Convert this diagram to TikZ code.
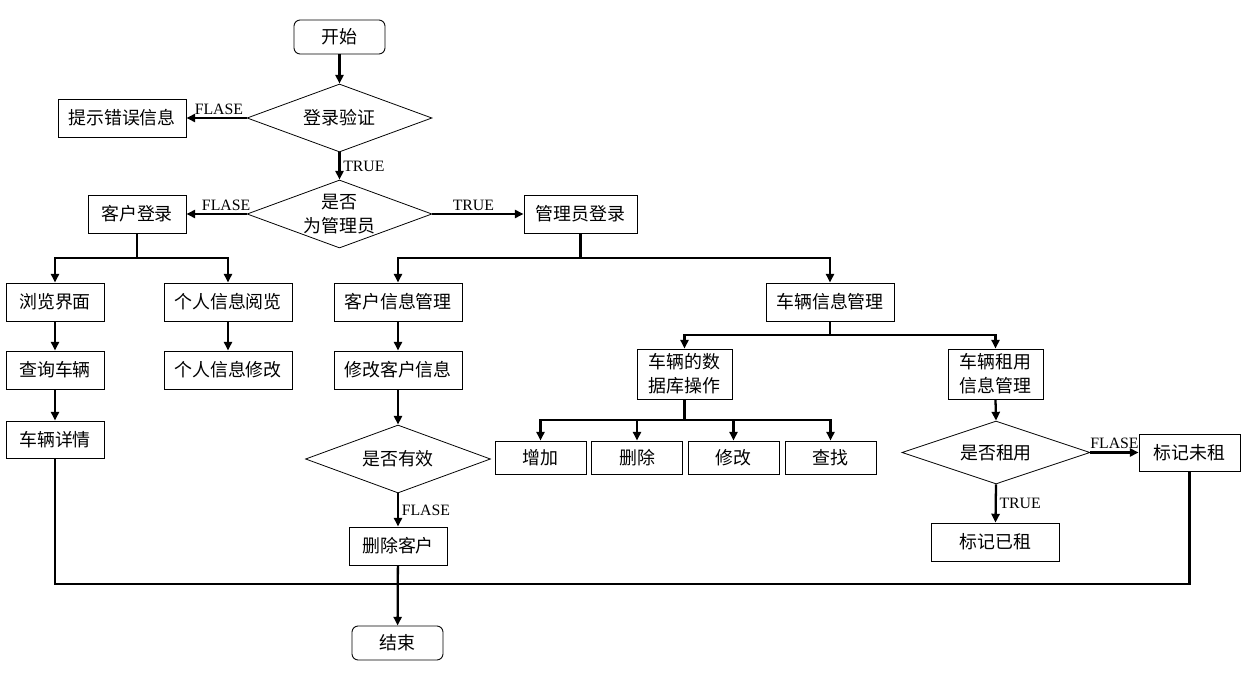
\documentclass[tikz,border=0pt]{standalone}
\usepackage{fontspec}
\newfontfamily\cjk{Noto Sans CJK SC}
\newfontfamily\tnr{Liberation Serif}
\usetikzlibrary{shapes.geometric,arrows.meta}
\begin{document}
\begin{tikzpicture}[x=0.02cm,y=-0.02cm,
  box/.style={draw,line width=0.5pt,inner sep=0pt,align=center,
    font=\cjk\fontsize{10.2}{13.6}\selectfont},
  term/.style={box,rounded corners=3.5pt},
  dia/.style={diamond,draw,line width=0.45pt,inner sep=0pt,shape aspect=2.7,align=center,
    font=\cjk\fontsize{10.2}{13.6}\selectfont},
  sz/.style 2 args={minimum width=#1cm,minimum height=#2cm},
  arr/.style={line width=1.3pt,-{Triangle[length=5pt,width=4.6pt]}},
  ln/.style={line width=1.3pt},
  lbl/.style={font=\tnr\fontsize{9}{10}\selectfont,inner sep=1.5pt}]
\useasboundingbox (0,0) rectangle (1251,682);
% nodes
\node[term,sz={1.82}{0.68}] (start) at (339.5,37) {开始};
\node[dia,sz={3.7}{1.36}] (v1) at (339.5,118) {登录验证};
\node[box,sz={2.56}{0.76}] (err) at (122,118) {提示错误信息};
\node[dia,sz={3.7}{1.36}] (q1) at (339.5,214) {是否\\为管理员};
\node[box,sz={1.96}{0.76}] (cust) at (137,214) {客户登录};
\node[box,sz={2.26}{0.76}] (adm) at (580.5,214) {管理员登录};
\node[box,sz={1.96}{0.76}] (browse) at (55,302) {浏览界面};
\node[box,sz={2.56}{0.76}] (pview) at (228,302) {个人信息阅览};
\node[box,sz={1.96}{0.76}] (query) at (55,370) {查询车辆};
\node[box,sz={2.56}{0.76}] (pmod) at (228,370) {个人信息修改};
\node[box,sz={1.96}{0.74}] (detail) at (55,439.5) {车辆详情};
\node[box,sz={2.56}{0.76}] (custinfo) at (398,302) {客户信息管理};
\node[box,sz={2.56}{0.76}] (vehinfo) at (830,302) {车辆信息管理};
\node[box,sz={2.56}{0.76}] (modcust) at (398,370) {修改客户信息};
\node[dia,sz={3.7}{1.36}] (valid) at (398,459) {是否有效};
\node[box,sz={1.96}{0.76}] (delcust) at (398,546) {删除客户};
\node[term,sz={1.82}{0.68}] (end) at (397.5,643) {结束};
\node[box,sz={1.9}{1.0}] (db) at (684.5,374) {车辆的数\\据库操作};
\node[box,sz={1.9}{1.0}] (rent) at (995.5,374) {车辆租用\\信息管理};
\node[box,sz={1.82}{0.66}] (add) at (540.5,457.5) {增加};
\node[box,sz={1.82}{0.66}] (del) at (637,457.5) {删除};
\node[box,sz={1.82}{0.66}] (mod) at (733.5,457.5) {修改};
\node[box,sz={1.82}{0.66}] (find) at (830.5,457.5) {查找};
\node[dia,sz={3.76}{1.26}] (isr) at (996,452.5) {是否租用};
\node[box,sz={2.02}{0.74}] (unr) at (1189.5,452.5) {标记未租};
\node[box,sz={2.56}{0.76}] (rented) at (995.5,542) {标记已租};
% junction coordinates
\coordinate (j1) at (137,258);
\coordinate (j2) at (580.5,258);
\coordinate (j3) at (830,335);
\coordinate (j4) at (684.5,420);
\coordinate (yb) at (0,584);
% connectors
\draw[arr] (start) -- (v1);
\draw[arr] (v1.west) -- node[lbl,above,pos=0.46] {FLASE} (err.east);
\draw[arr] (v1.south) -- node[lbl,right] {TRUE} (q1.north);
\draw[arr] (q1.west) -- node[lbl,above,pos=0.34] {FLASE} (cust.east);
\draw[arr] (q1.east) -- node[lbl,above,pos=0.45] {TRUE} (adm.west);
\draw[ln] (cust.south) -- (j1);
\draw[arr] (j1) -| (browse.north);
\draw[arr] (j1) -| (pview.north);
\draw[arr] (browse) -- (query);
\draw[arr] (query) -- (detail);
\draw[arr] (pview) -- (pmod);
\draw[ln] (adm.south) -- (j2);
\draw[arr] (j2) -| (custinfo.north);
\draw[arr] (j2) -| (vehinfo.north);
\draw[arr] (custinfo) -- (modcust);
\draw[arr] (modcust.south) -- (valid.north);
\draw[arr] (valid.south) -- node[lbl,right] {FLASE} (delcust.north);
\draw[arr] (delcust) -- (end);
\draw[ln] (vehinfo.south) -- (j3);
\draw[arr] (j3) -| (db.north);
\draw[arr] (j3) -| (rent.north);
\draw[ln] (db.south) -- (j4);
\draw[arr] (j4) -| (add.north);
\draw[arr] (j4) -| (del.north);
\draw[arr] (j4) -| (mod.north);
\draw[arr] (j4) -| (find.north);
\draw[arr] (rent.south) -- (isr.north);
\draw[arr] (isr.east) -- node[lbl,above] {FLASE} (unr.west);
\draw[arr] (isr.south) -- node[lbl,right] {TRUE} (rented.north);
\draw[ln] (detail.south) -- (detail.south |- yb) -| (unr.south);
\end{tikzpicture}
\end{document}
